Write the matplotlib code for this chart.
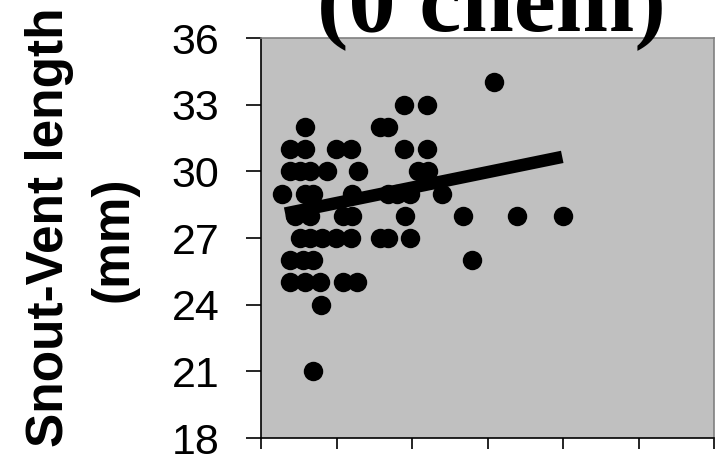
import matplotlib.pyplot as plt

# snout-vent length (mm) vs x (x in tick units of 10)
svl_x = [30.9,
         18.9, 22.0,
         5.8, 15.8, 16.8,
         3.8, 5.8, 9.9, 11.9, 18.9, 22.0,
         3.8, 5.2, 6.5, 8.7, 12.8, 20.8, 22.1,
         2.8, 5.8, 6.9, 12.1, 16.8, 18.0, 19.7, 24.0,
         4.5, 6.5, 10.9, 12.1, 19.1, 26.8, 33.9, 40.0,
         5.2, 6.5, 8.1, 9.9, 11.9, 15.8, 16.8, 19.7,
         3.8, 5.6, 6.9, 27.9,
         3.8, 5.8, 7.8, 10.9, 12.7,
         7.9,
         6.9]
svl_y = [34,
         33, 33,
         32, 32, 32,
         31, 31, 31, 31, 31, 31,
         30, 30, 30, 30, 30, 30, 30,
         29, 29, 29, 29, 29, 29, 29, 29,
         28, 28, 28, 28, 28, 28, 28, 28,
         27, 27, 27, 27, 27, 27, 27, 27,
         26, 26, 26, 26,
         25, 25, 25, 25, 25,
         24,
         21]

# linear trend line ends
trend_x = [3.2, 39.9]
trend_y = [28.1, 30.65]

y_ticks = [18, 21, 24, 27, 30, 33, 36]
x_ticks = [0, 10, 20, 30, 40, 50, 60]

fig = plt.figure(figsize=(7.2, 4.58), dpi=100)
ax = fig.add_axes([261/720, 1 - 438/458, 453/720, 400/458])
ax.set_facecolor('#c0c0c0')

ax.plot(svl_x, svl_y, 'o', color='black', markersize=14, markeredgewidth=0)
ax.plot(trend_x, trend_y, '-', color='black', linewidth=9, solid_capstyle='butt')

ax.set_xlim(0, 60)
ax.set_ylim(18, 36)
ax.set_xticks(x_ticks)
ax.set_xticklabels([])
ax.set_yticks(y_ticks)
ax.set_yticklabels([str(t) for t in y_ticks], fontsize=31, family='Liberation Sans')
ax.tick_params(axis='y', direction='out', length=11, width=1.2, pad=19)
ax.tick_params(axis='x', direction='out', length=8, width=1.2)

for side in ['left', 'bottom']:
    ax.spines[side].set_color('black')
    ax.spines[side].set_linewidth(1.2)
for side in ['top', 'right']:
    ax.spines[side].set_color('#808080')
    ax.spines[side].set_linewidth(1.2)

# y label, two lines placed separately
fig.text(50/720, 1 - 227/458, 'Snout-Vent length', rotation=90, ha='center', va='center',
         fontsize=37, fontweight='bold', family='Liberation Sans')
fig.text(114/720, 1 - 239/458, '(mm)', rotation=90, ha='center', va='center',
         fontsize=37, fontweight='bold', family='Liberation Sans')

fig.text(491/720, 1 - 30/458, '(0 chem)', ha='center', va='baseline',
         fontsize=68, fontweight='bold', family='Liberation Serif')

fig.savefig('out.png', dpi=100)
